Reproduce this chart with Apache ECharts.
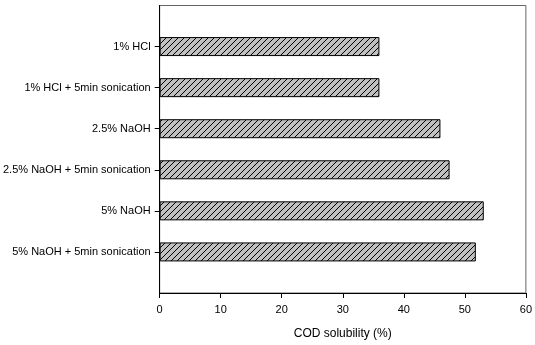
<!DOCTYPE html>
<html>
<head>
<meta charset="utf-8">
<script src="https://cdn.jsdelivr.net/npm/echarts@6/dist/echarts.min.js"></script>
<style>
  html, body { margin: 0; padding: 0; background: #fff; }
  #chart { width: 535px; height: 345px; }
</style>
</head>
<body>
<div id="chart"></div>
<script>
  var categories = ["1% HCl", "1% HCl + 5min sonication", "2.5% NaOH", "2.5% NaOH + 5min sonication", "5% NaOH", "5% NaOH + 5min sonication"]
  var values = [36.0, 36.0, 46.0, 47.5, 53.1, 51.8]
  var xTicks = [0, 10, 20, 30, 40, 50, 60]

  // empty slots at both ends so the bars sit half a band in from the frame
  var yData = [''].concat(categories, [''])
  var barData = ['-'].concat(values, ['-'])

  // grey fill with "/" hatching
  var tile = document.createElement('canvas')
  tile.width = 6
  tile.height = 6
  var ctx = tile.getContext('2d')
  ctx.fillStyle = '#c0c0c0'
  ctx.fillRect(0, 0, 6, 6)
  ctx.strokeStyle = '#000'
  ctx.lineWidth = 1
  ctx.beginPath()
  ctx.moveTo(-1, 7); ctx.lineTo(7, -1)
  ctx.moveTo(-1, 1); ctx.lineTo(1, -1)
  ctx.moveTo(5, 7); ctx.lineTo(7, 5)
  ctx.stroke()

  var chart = echarts.init(document.getElementById('chart'))
  var option = {
    "animation": false,
    "textStyle": {
      "fontFamily": "Liberation Sans, Arial, sans-serif"
    },
    "grid": {
      "left": 157.5,
      "right": 9,
      "top": 5.5,
      "bottom": 51,
      "show": true,
      "borderColor": "#666",
      "borderWidth": 1
    },
    "xAxis": {
      "type": "value",
      "min": xTicks[0],
      "max": xTicks[xTicks.length - 1],
      "interval": 10,
      "name": "COD solubility (%)",
      "nameLocation": "middle",
      "nameGap": 35,
      "nameTextStyle": {
        "color": "#000",
        "fontSize": 12
      },
      "axisLine": {
        "show": true,
        "lineStyle": { "color": "#000", "width": 1 }
      },
      "axisTick": {
        "show": true,
        "length": 5,
        "lineStyle": { "color": "#000" }
      },
      "axisLabel": {
        "color": "#000",
        "fontSize": 11,
        "margin": 11
      },
      "splitLine": { "show": false }
    },
    "yAxis": {
      "type": "category",
      "inverse": true,
      "boundaryGap": false,
      "data": yData,
      "axisLine": {
        "show": true,
        "lineStyle": { "color": "#000", "width": 1 }
      },
      "axisTick": {
        "show": true,
        "length": 5,
        "interval": function (index) {
          return index > 0 && index < yData.length - 1
        },
        "lineStyle": { "color": "#000" }
      },
      "axisLabel": {
        "color": "#000",
        "fontSize": 11,
        "margin": 9,
        "interval": 0
      },
      "splitLine": { "show": false }
    },
    "series": [
      {
        "type": "bar",
        "data": barData,
        "barWidth": 19,
        "itemStyle": {
          "color": { "image": tile, "repeat": "repeat" },
          "borderColor": "#000",
          "borderWidth": 1
        }
      }
    ]
  }
  chart.setOption(option)
</script>
</body>
</html>
